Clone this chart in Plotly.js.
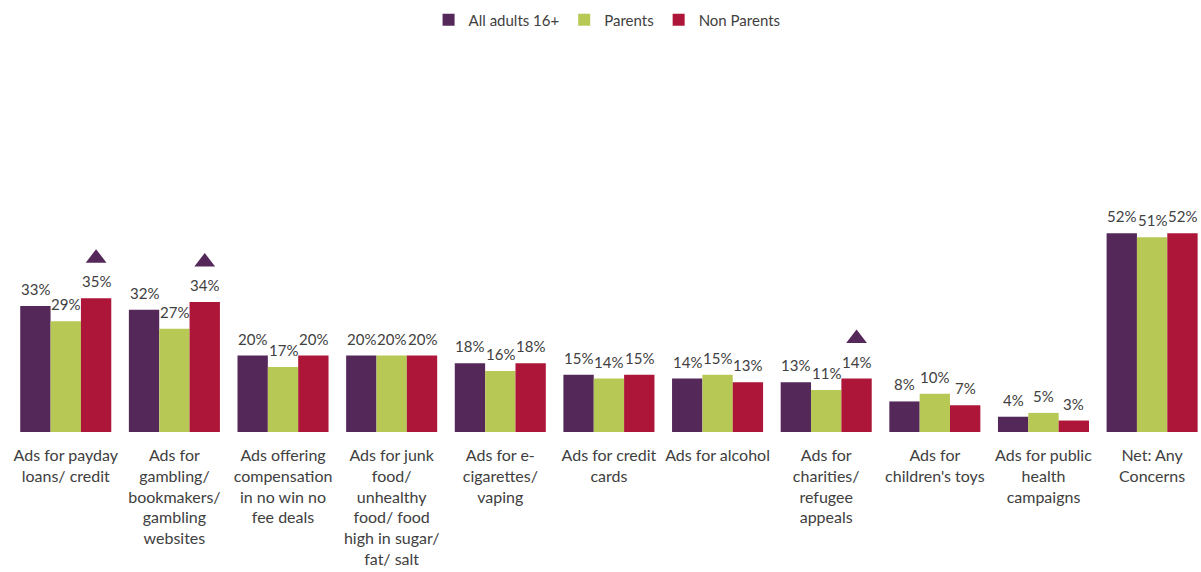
<!DOCTYPE html>
<html>
<head>
<meta charset="utf-8">
<script src="https://cdn.plot.ly/plotly-3.0.1.min.js"></script>
<style>html,body{margin:0;padding:0;background:#fff;}#chart{width:1201px;height:572px;}</style>
</head>
<body>
<div id="chart"></div>
<script>
var categories = [
  "Ads for payday<br>loans/ credit",
  "Ads for<br>gambling/<br>bookmakers/<br>gambling<br>websites",
  "Ads offering<br>compensation<br>in no win no<br>fee deals",
  "Ads for junk<br>food/<br>unhealthy<br>food/ food<br>high in sugar/<br>fat/ salt",
  "Ads for e-<br>cigarettes/<br>vaping",
  "Ads for credit<br>cards",
  "Ads for alcohol",
  "Ads for<br>charities/<br>refugee<br>appeals",
  "Ads for<br>children's toys",
  "Ads for public<br>health<br>campaigns",
  "Net: Any<br>Concerns"
];
var allAdults = [33, 32, 20, 20, 18, 15, 14, 13, 8, 4, 52];
var parents   = [29, 27, 17, 20, 16, 14, 15, 11, 10, 5, 51];
var nonParents = [35, 34, 20, 20, 18, 15, 13, 14, 7, 3, 52];
// significance flags (triangle above Non Parents bar)
var nonParentsSig = [true, true, false, false, false, false, false, true, false, false, false];

var seriesNames = ["All adults 16+", "Parents", "Non Parents"];
var colors = ["#55285a", "#b7c954", "#ad1639"];

var idx = categories.map(function(_, i){ return i; });
var bargap = 0.162;
var barW = (1 - bargap) / 3;
var font = "Lato, 'Open Sans', sans-serif";
var textCol = "#404040";
var seriesVals = [allAdults, parents, nonParents];

function barTrace(name, vals, color){
  return {
    type: "bar", name: name, x: idx, y: vals,
    marker: {color: color},
    hoverinfo: "skip"
  };
}

var annotations = [];
seriesVals.forEach(function(vals, k){
  vals.forEach(function(v, i){
    annotations.push({
      x: i + (k - 1) * barW, y: v, xref: "x", yref: "y",
      text: v + "%", showarrow: false, yanchor: "bottom", yshift: 6,
      font: {family: font, size: 15, color: textCol}
    });
  });
});

var sigX = [], sigY = [];
nonParentsSig.forEach(function(s, i){
  if (s) { sigX.push(i + barW); sigY.push(nonParents[i] + 10.5); }
});

var traces = [
  barTrace(seriesNames[0], allAdults, colors[0]),
  barTrace(seriesNames[1], parents, colors[1]),
  barTrace(seriesNames[2], nonParents, colors[2]),
  {type: "scatter", mode: "markers", x: sigX, y: sigY, showlegend: false,
   marker: {symbol: "triangle-up", size: 18, color: colors[0]}, cliponaxis: false, hoverinfo: "skip"}
];

var layout = {
  width: 1201, height: 572,
  margin: {l: 6, r: 0, t: 50, b: 140},
  paper_bgcolor: "#fff", plot_bgcolor: "#fff",
  barmode: "group", bargap: bargap, bargroupgap: 0,
  showlegend: true,
  legend: {orientation: "h", x: 0.503, xanchor: "center", yref: "container", y: 0.965, yanchor: "middle",
           itemwidth: 30, tracegroupgap: 0,
           font: {family: font, size: 15, color: textCol}, traceorder: "normal"},
  annotations: annotations,
  xaxis: {tickmode: "array", tickvals: idx, ticktext: categories, range: [-0.55, 10.45],
          showgrid: false, zeroline: false, showline: false, ticks: "", ticklabelstandoff: 12,
          tickfont: {family: font, size: 16, color: textCol}, tickangle: 0, fixedrange: true},
  yaxis: {range: [0, 100], visible: false, showgrid: false, zeroline: false, fixedrange: true}
};

Plotly.newPlot("chart", traces, layout, {displayModeBar: false, staticPlot: true});
</script>
</body>
</html>
